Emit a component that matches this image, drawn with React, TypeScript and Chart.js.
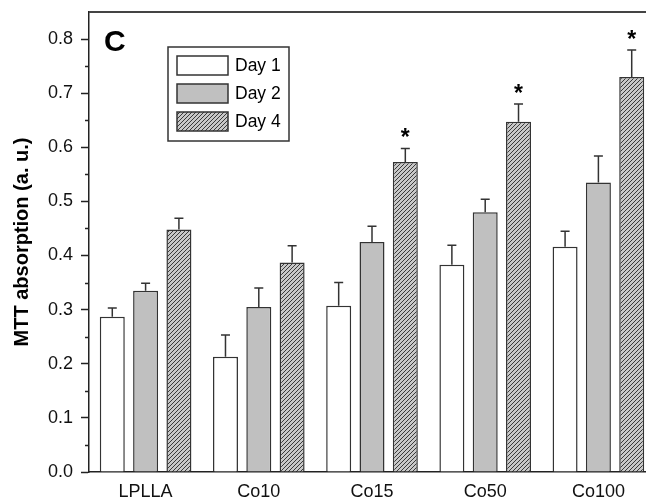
import React, { useEffect, useRef } from "react";
import { Chart, registerables } from "chart.js";

Chart.register(...registerables);

const categories = ["LPLLA", "Co10", "Co15", "Co50", "Co100"];
const seriesLabels = ["Day 1", "Day 2", "Day 4"];
const day1 = [0.287, 0.213, 0.307, 0.383, 0.416];
const day2 = [0.335, 0.305, 0.425, 0.48, 0.535];
const day4 = [0.448, 0.387, 0.573, 0.647, 0.73];
const day1Err = [0.016, 0.04, 0.043, 0.036, 0.029];
const day2Err = [0.014, 0.035, 0.029, 0.024, 0.049];
const day4Err = [0.021, 0.031, 0.025, 0.033, 0.05];
const day4Significant = [false, false, true, true, true];
const yTicks = [0, 0.1, 0.2, 0.3, 0.4, 0.5, 0.6, 0.7, 0.8];
const yMinorTicks = [0.05, 0.15, 0.25, 0.35, 0.45, 0.55, 0.65, 0.75];
const yMax = 0.85;
const panelLabel = "C";
const yTitle = "MTT absorption (a. u.)";

const FONT = "'Liberation Sans', Arial, Helvetica, sans-serif";
const DARK = "#333333";

function makeHatch(): CanvasPattern | string {
  const c = document.createElement("canvas");
  const n = 4;
  c.width = n;
  c.height = n;
  const g = c.getContext("2d");
  if (!g) return "#c0c0c0";
  g.fillStyle = "#c8c8c8";
  g.fillRect(0, 0, n, n);
  g.fillStyle = "#3a3a3a";
  for (let i = 0; i < n; i++) g.fillRect(i, n - 1 - i, 1, 1);
  const p = g.createPattern(c, "repeat");
  return p || "#c0c0c0";
}

export default function App() {
  const ref = useRef<HTMLCanvasElement | null>(null);

  useEffect(() => {
    if (!ref.current) return;
    const hatch = makeHatch();
    const fills = ["#ffffff", "#c0c0c0", hatch];

    const decor = {
      id: "decor",
      afterDraw(chart: any) {
        const { ctx, chartArea, scales } = chart;
        const y = scales.y;
        ctx.save();

        // top frame
        ctx.strokeStyle = "#444444";
        ctx.lineWidth = 2;
        ctx.beginPath();
        ctx.moveTo(chartArea.left, chartArea.top);
        ctx.lineTo(chartArea.right, chartArea.top);
        ctx.stroke();

        // minor ticks
        ctx.strokeStyle = "#222222";
        ctx.lineWidth = 1.5;
        yMinorTicks.forEach((v) => {
          const py = Math.round(y.getPixelForValue(v)) + 0.5;
          ctx.beginPath();
          ctx.moveTo(chartArea.left - 4, py);
          ctx.lineTo(chartArea.left, py);
          ctx.stroke();
        });

        // error bars + significance marks
        chart.data.datasets.forEach((ds: any, di: number) => {
          const meta = chart.getDatasetMeta(di);
          meta.data.forEach((el: any, i: number) => {
            const top = ds.data[i] + ds.errors[i];
            const yt = y.getPixelForValue(top);
            const x = el.x;
            ctx.strokeStyle = DARK;
            ctx.lineWidth = 1.5;
            ctx.beginPath();
            ctx.moveTo(x, el.y);
            ctx.lineTo(x, yt);
            ctx.moveTo(x - 4.5, yt);
            ctx.lineTo(x + 4.5, yt);
            ctx.stroke();
            if (ds.significant && ds.significant[i]) {
              ctx.fillStyle = "#000";
              ctx.font = `bold 23px ${FONT}`;
              ctx.textAlign = "center";
              ctx.textBaseline = "alphabetic";
              ctx.fillText("*", x, yt - 3);
            }
          });
        });

        // panel label
        ctx.fillStyle = "#000";
        ctx.font = `bold 30px ${FONT}`;
        ctx.textAlign = "left";
        ctx.textBaseline = "alphabetic";
        ctx.fillText(panelLabel, chartArea.left + 15, chartArea.top + 39);

        // legend
        const lx = chartArea.left + 79;
        const ly = chartArea.top + 35;
        ctx.strokeStyle = DARK;
        ctx.lineWidth = 1.5;
        ctx.fillStyle = "#fff";
        ctx.fillRect(lx, ly, 121, 94);
        ctx.strokeRect(lx, ly, 121, 94);
        chart.data.datasets.forEach((ds: any, di: number) => {
          const sy = ly + 9 + di * 28;
          ctx.fillStyle = ds.backgroundColor;
          ctx.fillRect(lx + 9, sy, 51, 19);
          ctx.strokeStyle = DARK;
          ctx.lineWidth = 1.5;
          ctx.strokeRect(lx + 9, sy, 51, 19);
          ctx.fillStyle = "#000";
          ctx.font = `17.5px ${FONT}`;
          ctx.textAlign = "left";
          ctx.textBaseline = "middle";
          ctx.fillText(ds.label, lx + 67, sy + 10);
        });

        // y title
        ctx.save();
        ctx.translate(22, (chartArea.top + chartArea.bottom) / 2);
        ctx.rotate(-Math.PI / 2);
        ctx.fillStyle = "#000";
        ctx.font = `bold 20px ${FONT}`;
        ctx.textAlign = "center";
        ctx.textBaseline = "middle";
        ctx.fillText(yTitle, 0, 0);
        ctx.restore();

        ctx.restore();
      },
    };

    const values = [day1, day2, day4];
    const errs = [day1Err, day2Err, day4Err];
    const sig = [null, null, day4Significant];

    const chart = new Chart(ref.current, {
      type: "bar",
      data: {
        labels: categories,
        datasets: seriesLabels.map((label, i) => ({
          label,
          data: values[i],
          errors: errs[i],
          significant: sig[i],
          backgroundColor: fills[i],
          borderColor: DARK,
          borderWidth: 1.5,
          categoryPercentage: 0.883,
          barPercentage: 0.75,
        })) as any,
      },
      options: {
        responsive: false,
        animation: false,
        layout: { padding: { left: 0, right: 15, top: 12, bottom: 0 } },
        plugins: {
          legend: { display: false },
          tooltip: { enabled: false },
        },
        scales: {
          x: {
            type: "category",
            offset: true,
            grid: { display: false, drawTicks: false },
            border: { display: true, color: "#222", width: 1.5 },
            ticks: {
              font: { size: 18, family: FONT },
              color: "#111",
              padding: 9,
              maxRotation: 0,
            },
            afterFit: (s: any) => {
              s.height = 29;
              s.paddingLeft = 0;
              s.paddingRight = 0;
            },
          },
          y: {
            type: "linear",
            min: 0,
            max: yMax,
            afterBuildTicks: (s: any) => {
              s.ticks = yTicks.map((v) => ({ value: v }));
            },
            ticks: {
              font: { size: 18, family: FONT },
              color: "#111",
              padding: 8,
              callback: (v: any) => Number(v).toFixed(1),
            },
            grid: {
              display: true,
              drawOnChartArea: false,
              tickLength: 8,
              tickColor: "#222",
              tickWidth: 1.5,
            },
            border: { display: true, color: "#222", width: 1.5 },
            afterFit: (s: any) => {
              s.width = 89;
              s.paddingTop = 0;
              s.paddingBottom = 0;
            },
          },
        },
      } as any,
      plugins: [decor],
    });
    return () => chart.destroy();
  }, []);

  return (
    <div
      style={{
        position: "fixed",
        left: 0,
        top: 0,
        width: 646,
        height: 501,
        overflow: "hidden",
        background: "#fff",
      }}
    >
      <canvas ref={ref} width={670} height={501} style={{ display: "block" }} />
    </div>
  );
}
